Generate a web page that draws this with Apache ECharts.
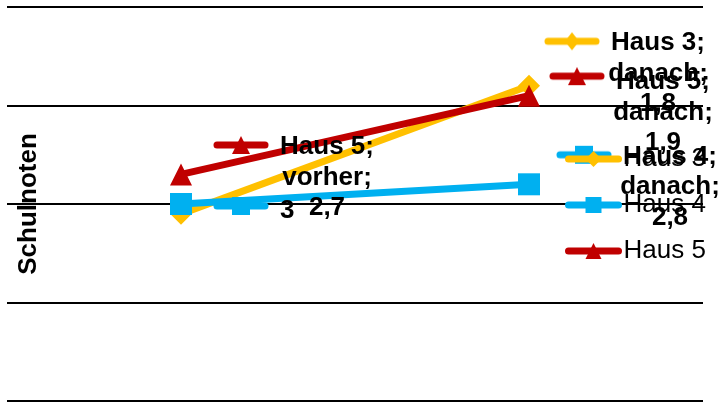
<!DOCTYPE html>
<html>
<head>
<meta charset="utf-8">
<script src="https://cdn.jsdelivr.net/npm/echarts@6/dist/echarts.min.js"></script>
<style>
  html, body { margin: 0; padding: 0; background: #fff; }
  #chart { width: 724px; height: 403px; }
</style>
</head>
<body>
<div id="chart"></div>
<script>
// Chart data
const categories = ['vorher', 'danach'];
const seriesNames = ['Haus 3', 'Haus 4', 'Haus 5'];
const haus3 = [3.1, 1.8];
const haus4 = [3, 2.8];
const haus5 = [2.7, 1.9];
const axisTitle = 'Schulnoten';

// Which data labels are shown: 'full' = name; category; value, 'value' = value only
const labelMode3 = [null, 'full'];
const labelMode4 = ['value', 'full'];
const labelMode5 = ['full', 'full'];

const colors = ['#FFC000', '#00B0F0', '#C00000'];
const symbols = ['diamond', 'rect', 'triangle'];

const FONT = 'Arial, "Liberation Sans", sans-serif';

// Small legend-key picture (line + marker) used inside data labels
function keyImage(color, symbol, cy) {
  const c = document.createElement('canvas');
  c.width = 59; c.height = 30;
  const g = c.getContext('2d');
  g.strokeStyle = color; g.fillStyle = color;
  g.lineWidth = 7; g.lineCap = 'round';
  g.beginPath(); g.moveTo(4, cy); g.lineTo(52, cy); g.stroke();
  const cx = 28, s = 9;
  g.beginPath();
  if (symbol === 'diamond') {
    g.moveTo(cx, cy - s); g.lineTo(cx + s * 0.8, cy); g.lineTo(cx, cy + s); g.lineTo(cx - s * 0.8, cy);
  } else if (symbol === 'rect') {
    g.rect(cx - s, cy - s, 2 * s, 2 * s);
  } else {
    g.moveTo(cx, cy - s); g.lineTo(cx + s, cy + s); g.lineTo(cx - s, cy + s);
  }
  g.closePath(); g.fill();
  return c.toDataURL();
}

const rich = {
  sp: { width: 59, height: 30 },
  t: { width: 110, align: 'center', fontSize: 26, fontWeight: 'bold', lineHeight: 30.5, color: '#000', fontFamily: FONT },
  v: { fontSize: 26, fontWeight: 'bold', lineHeight: 30.5, color: '#000', fontFamily: FONT, padding: [6, 0, 0, 8] }
};
seriesNames.forEach((n, i) => {
  rich['k' + i] = { width: 59, height: 30, backgroundColor: { image: keyImage(colors[i], symbols[i], 13) } };
  rich['h' + i] = { width: 59, height: 30, backgroundColor: { image: keyImage(colors[i], symbols[i], 9) } };
});

const fmt = v => String(v).replace('.', ',');

// Per-label placement (distance from the marker, offset, key style)
const labelPlace = [
  [null, { distance: 4, offset: [0, -12], key: 'k' }],
  [{ distance: 21, offset: [0, 4], key: 'k' }, { distance: 16, offset: [0, 3], key: 'k' }],
  [{ distance: 21, offset: [0, 3], key: 'k' }, { distance: 9, offset: [0, 17], key: 'h' }]
];

function buildData(si, values, modes) {
  return values.map((v, j) => {
    const mode = modes[j];
    if (!mode) return { value: v, label: { show: false } };
    const place = labelPlace[si][j];
    const key = place.key + si;
    const text = mode === 'full'
      ? `{${key}|}{t|${seriesNames[si]};}\n{sp|}{t|${categories[j]};}\n{sp|}{t|${fmt(v)}}`
      : `{${key}|}{v|${fmt(v)}}`;
    return {
      value: v,
      label: {
        show: true, position: 'right', distance: place.distance, offset: place.offset,
        formatter: text, rich: rich
      }
    };
  });
}

const seriesData = [haus3, haus4, haus5];
const modes = [labelMode3, labelMode4, labelMode5];

const chart = echarts.init(document.getElementById('chart'), null, { renderer: 'canvas' });
chart.setOption({
  animation: false,
  backgroundColor: '#fff',
  grid: { left: 7, right: 21, top: 7, bottom: 2, containLabel: false },
  legend: {
    orient: 'vertical', left: 565, top: 146, padding: 0,
    itemWidth: 50, itemHeight: 20, itemGap: 20,
    lineStyle: { width: 7, cap: 'round' },
    textStyle: { fontSize: 26, color: '#000', fontFamily: FONT },
    data: seriesNames
  },
  xAxis: {
    type: 'category', data: categories, boundaryGap: true,
    axisLine: { show: false }, axisTick: { show: false }, axisLabel: { show: false },
    splitLine: { show: false }
  },
  yAxis: {
    type: 'value', inverse: true, min: 1, max: 5, interval: 1,
    axisLine: { show: false }, axisTick: { show: false }, axisLabel: { show: false },
    splitLine: { show: true, lineStyle: { color: '#000', width: 2 } },
    name: axisTitle, nameLocation: 'middle', nameGap: -35,
    nameTextStyle: { fontSize: 26, fontWeight: 'bold', color: '#000', fontFamily: FONT }
  },
  series: seriesNames.map((n, i) => ({
    name: n, type: 'line',
    data: buildData(i, seriesData[i], modes[i]),
    symbol: symbols[i], symbolSize: 22,
    lineStyle: { color: colors[i], width: 7 },
    itemStyle: { color: colors[i] }
  }))
});
</script>
</body>
</html>
